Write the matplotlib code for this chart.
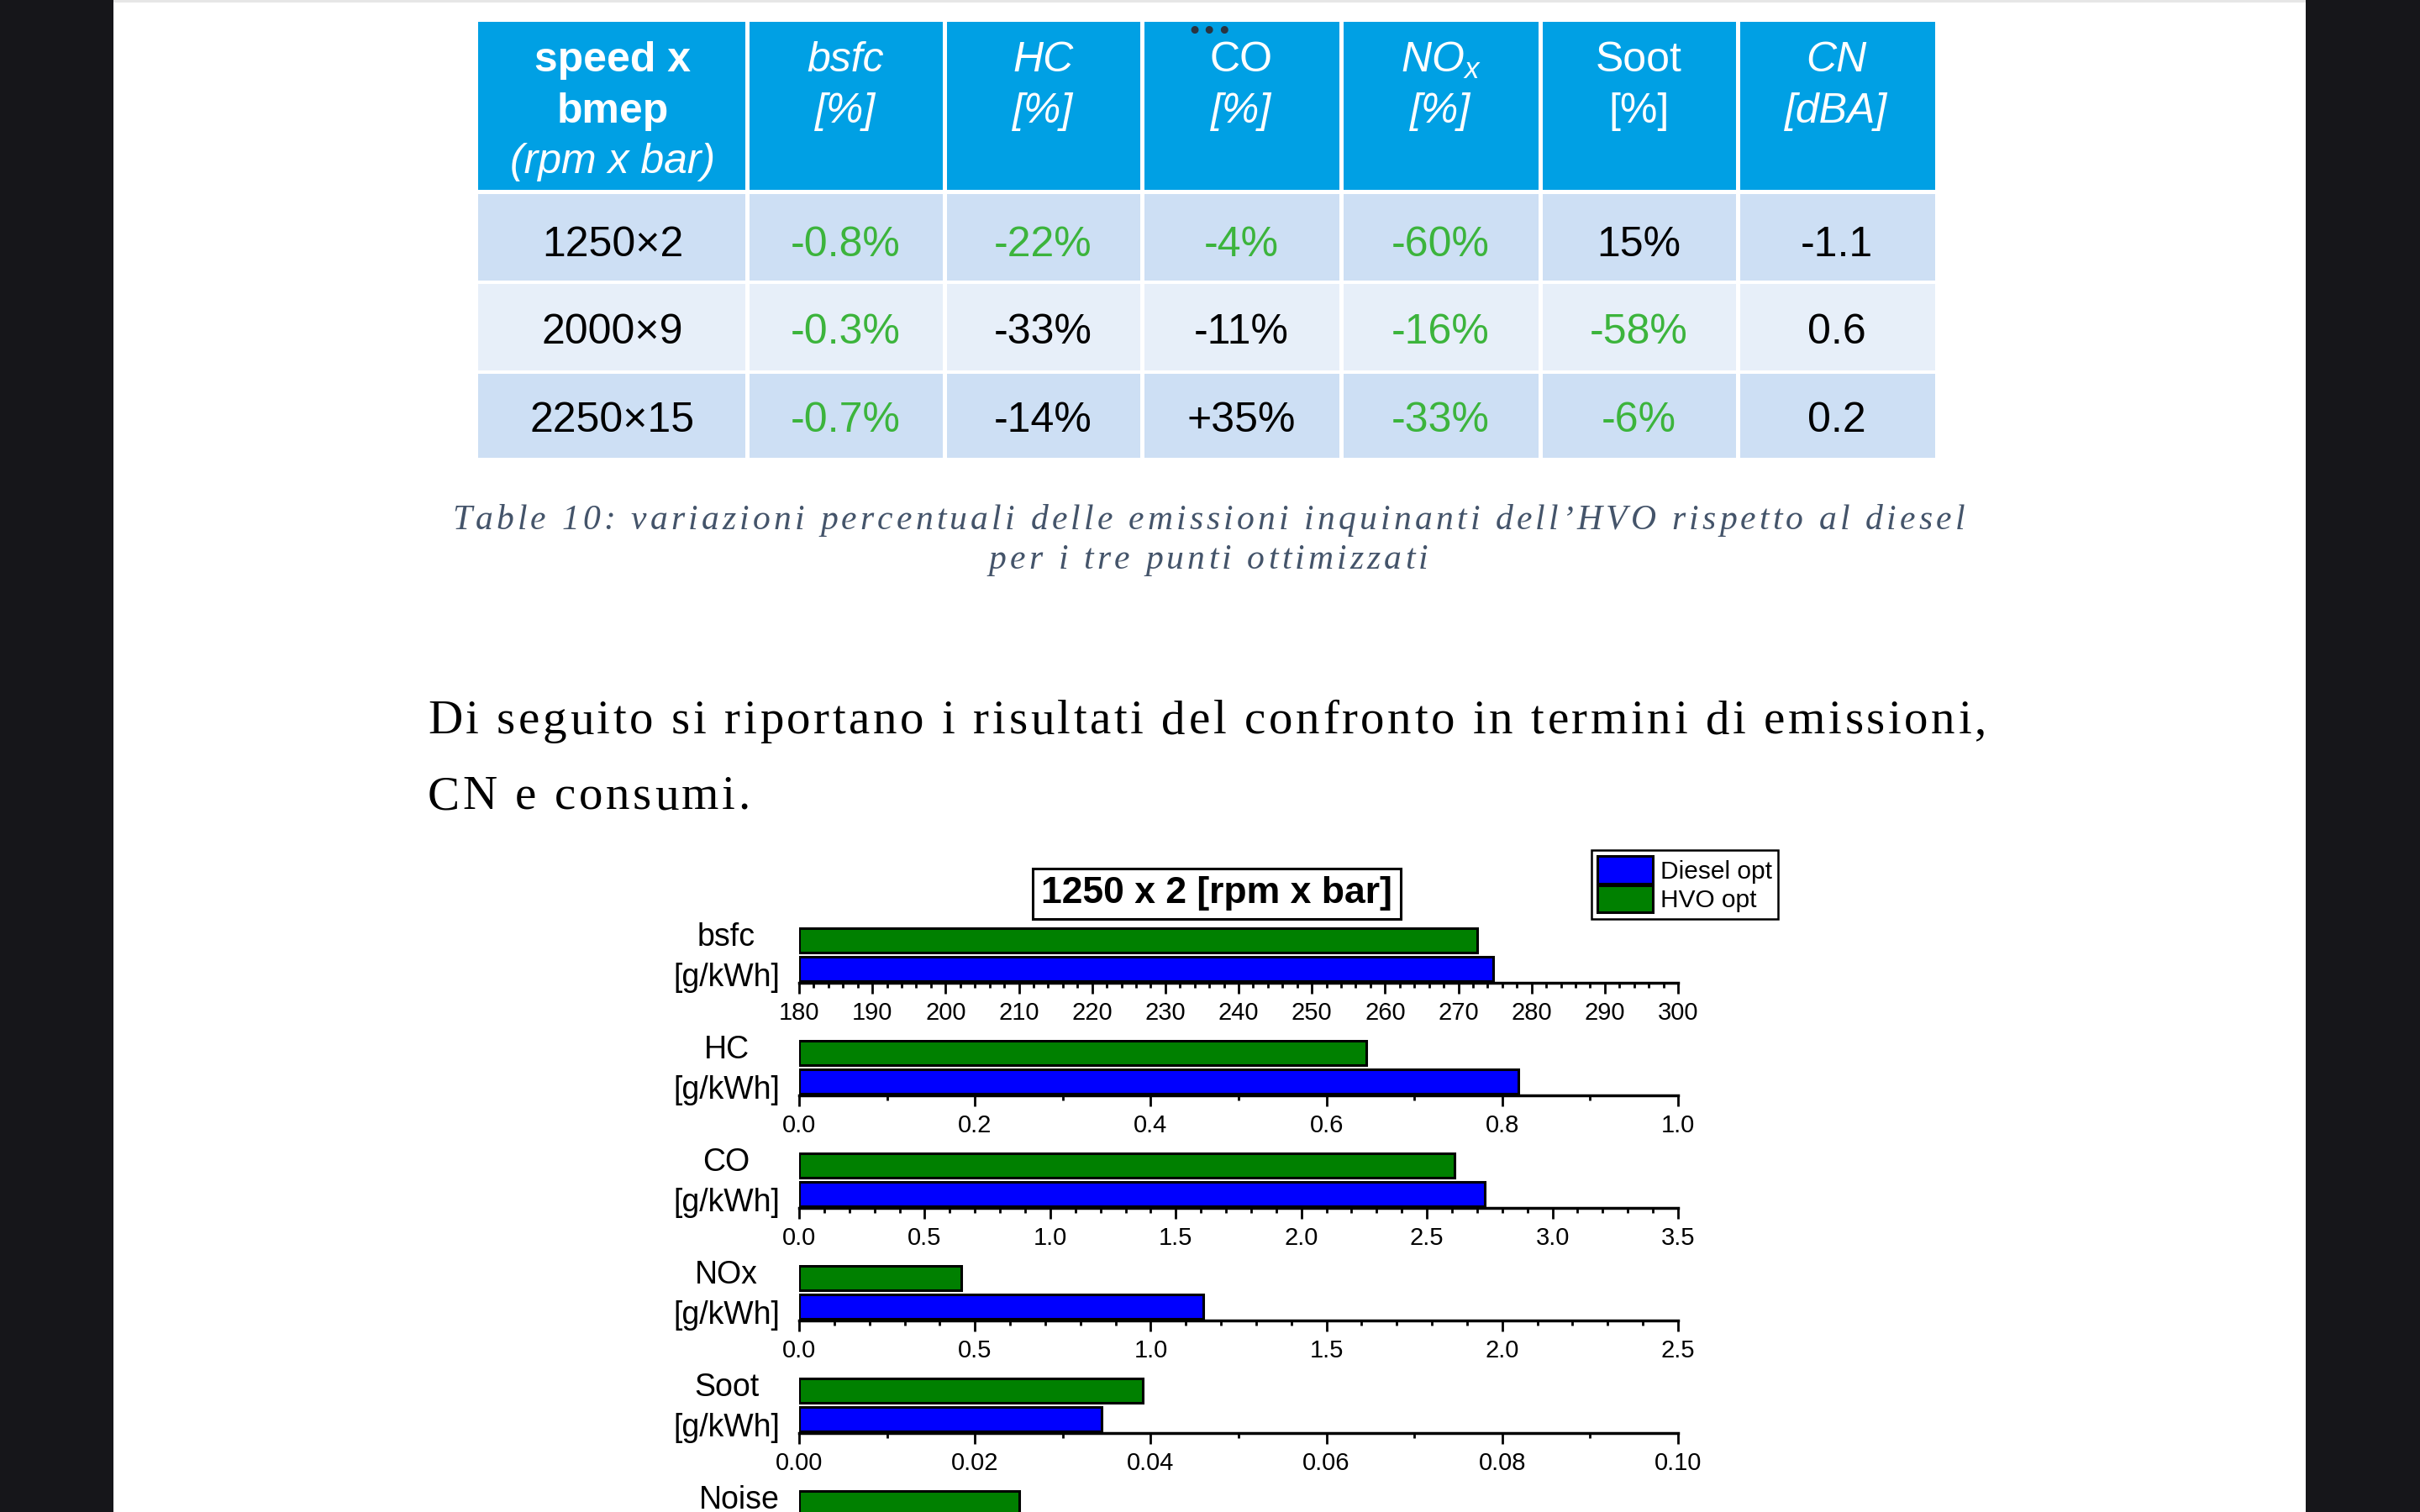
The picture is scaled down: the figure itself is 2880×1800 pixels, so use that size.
import matplotlib
matplotlib.use("Agg")
import matplotlib.pyplot as plt
from matplotlib import font_manager as fm
from matplotlib.ft2font import FT2Font
from matplotlib.patches import Rectangle
from matplotlib.ticker import MultipleLocator, FormatStrFormatter

W, H, DPI = 2880, 1800, 100

plt.rcParams["font.family"] = ["Liberation Sans", "DejaVu Sans"]
plt.rcParams["mathtext.fontset"] = "custom"
plt.rcParams["mathtext.rm"] = "Liberation Sans"
plt.rcParams["mathtext.it"] = "Liberation Sans:italic"

# ---- table data ----
table_points = ["1250×2", "2000×9", "2250×15"]
table_heads = [("bsfc", "[%]"), ("HC", "[%]"), ("CO", "[%]"),
               (r"$\mathit{NO}_{\mathit{x}}$", "[%]"), ("Soot", "[%]"), ("CN", "[dBA]")]
head_italic = [(True, True), (True, True), (False, True),
               (False, True), (False, False), (True, True)]
bsfc_var = ["-0.8%", "-0.3%", "-0.7%"]
hc_var = ["-22%", "-33%", "-14%"]
co_var = ["-4%", "-11%", "+35%"]
nox_var = ["-60%", "-16%", "-33%"]
soot_var = ["15%", "-58%", "-6%"]
cn_var = ["-1.1", "0.6", "0.2"]
highlight = [[True, True, True, True, False, False],
             [True, False, False, True, True, False],
             [True, False, False, True, True, False]]

caption = ["Table 10: variazioni percentuali delle emissioni inquinanti dell’HVO rispetto al diesel",
           "per i tre punti ottimizzati"]
paragraph = ["Di seguito si riportano i risultati del confronto in termini di emissioni,",
             "CN e consumi."]

# ---- chart data ----
chart_title = "1250 x 2 [rpm x bar]"
metrics = ["bsfc", "HC", "CO", "NOx", "Soot", "Noise"]
units = ["[g/kWh]", "[g/kWh]", "[g/kWh]", "[g/kWh]", "[g/kWh]", "[dBA]"]
diesel_opt = [274.8, 0.818, 2.73, 1.15, 0.0344, 81.1]
hvo_opt = [272.6, 0.645, 2.61, 0.462, 0.0391, 80.0]
x_limits = [(180, 300), (0, 1.0), (0, 3.5), (0, 2.5), (0, 0.10), (75, 95)]
major_step = [10, 0.2, 0.5, 0.5, 0.02, 5]
minor_step = [2, 0.1, 0.1, 0.1, 0.01, 1]
tick_fmt = ["%d", "%.1f", "%.1f", "%.1f", "%.2f", "%d"]

fig = plt.figure(figsize=(W / DPI, H / DPI), dpi=DPI)
bg = fig.add_axes([0, 0, 1, 1], zorder=0)
bg.set_xlim(0, W)
bg.set_ylim(H, 0)
bg.axis("off")

# page frame
bg.add_patch(Rectangle((0, 0), 135, H, fc="#16161a", ec="none"))
bg.add_patch(Rectangle((2744, 0), W - 2744, H, fc="#16161a", ec="none"))
bg.add_patch(Rectangle((135, 0), 2744 - 135, 3, fc="#e6e6e6", ec="none"))
bg.text(1440, 38, "•••", fontsize=22, color="#2a3440", ha="center", va="center",
        family="DejaVu Sans")


def tracked(x, y, s, prop, width=None, track=None, ha="left", color="black"):
    font = FT2Font(fm.findfont(prop))
    font.set_size(prop.get_size_in_points(), DPI)
    adv = [font.load_char(ord(c)).linearHoriAdvance / 65536 for c in s]
    if track is None:
        track = (width - sum(adv)) / (len(s) - 1)
    total = sum(adv) + track * (len(s) - 1)
    cx = x - total / 2 if ha == "center" else x
    for c, a in zip(s, adv):
        bg.text(cx, y, c, fontproperties=prop, color=color, va="baseline", ha="left")
        cx += a + track
    return track


# ---- table ----
col_edges = [569, 889, 1124, 1359, 1596, 1833, 2068, 2303]
row_edges = [(26, 226), (231, 334), (338, 441), (445, 545)]
row_fill = ["#00a0e4", "#cddff4", "#e7eff9", "#cddff4"]
g = 2.5
for r, (top, bot) in enumerate(row_edges):
    for c in range(7):
        x0 = col_edges[c] + (g if c > 0 else 0)
        x1 = col_edges[c + 1] - (g if c < 6 else 0)
        bg.add_patch(Rectangle((x0, top), x1 - x0, bot - top, fc=row_fill[r], ec="none"))

centers = [(col_edges[i] + col_edges[i + 1]) / 2 for i in range(7)]
bg.text(centers[0], 72, "speed x", color="white", fontsize=36, weight="bold", ha="center", va="center")
bg.text(centers[0], 133, "bmep", color="white", fontsize=36, weight="bold", ha="center", va="center")
bg.text(centers[0], 193, "(rpm x bar)", color="white", fontsize=36, style="italic", ha="center", va="center")
for i, (h1, h2) in enumerate(table_heads):
    it1, it2 = head_italic[i]
    bg.text(centers[i + 1], 72, h1, color="white", fontsize=36,
            style="italic" if it1 else "normal", ha="center", va="center")
    bg.text(centers[i + 1], 133, h2, color="white", fontsize=36,
            style="italic" if it2 else "normal", ha="center", va="center")

columns = [bsfc_var, hc_var, co_var, nox_var, soot_var, cn_var]
row_y = [292, 396, 501]
for r in range(3):
    bg.text(centers[0], row_y[r], table_points[r], fontsize=36, ha="center", va="center")
    for c in range(6):
        bg.text(centers[c + 1], row_y[r], columns[c][r], fontsize=36, ha="center", va="center",
                color="#3cb43c" if highlight[r][c] else "black")

# ---- caption and paragraph ----
cap_prop = fm.FontProperties(family="Liberation Serif", style="italic", size=30)
tr = tracked(1438, 630, caption[0], cap_prop, width=1800, ha="center", color="#44546a")
tracked(1438, 677, caption[1], cap_prop, track=tr, ha="center", color="#44546a")

par_prop = fm.FontProperties(family="Liberation Serif", size=41)
tr = tracked(509, 873, paragraph[0], par_prop, width=1855)
tracked(509, 963, paragraph[1], par_prop, track=tr)

# ---- chart ----
bg.text(1448, 1064, chart_title, fontsize=32, weight="bold", ha="center", va="center",
        bbox=dict(boxstyle="square,pad=0.22", fc="white", ec="black", lw=2.2))

ax_left, ax_right, ax_h = 951, 1997, 66
handles = None
for i, name in enumerate(metrics):
    base = 1170 + 134 * i
    ax = fig.add_axes([ax_left / W, 1 - base / H, (ax_right - ax_left) / W, ax_h / H], zorder=1)
    ax.set_facecolor("none")
    lo, hi = x_limits[i]
    b1 = ax.barh([0], [diesel_opt[i] - lo], left=lo, height=0.86, color="#0000ff",
                 edgecolor="black", linewidth=2.2, label="Diesel opt")
    b2 = ax.barh([1], [hvo_opt[i] - lo], left=lo, height=0.86, color="#008000",
                 edgecolor="black", linewidth=2.2, label="HVO opt")
    if handles is None:
        handles = [b1, b2]
    ax.set_xlim(lo, hi)
    ax.set_ylim(-0.48, 1.46)
    for s in ["left", "top", "right"]:
        ax.spines[s].set_visible(False)
    ax.spines["bottom"].set_linewidth(2.5)
    ax.set_yticks([])
    ax.xaxis.set_major_locator(MultipleLocator(major_step[i]))
    ax.xaxis.set_minor_locator(MultipleLocator(minor_step[i]))
    ax.xaxis.set_major_formatter(FormatStrFormatter(tick_fmt[i]))
    ax.tick_params(axis="x", which="major", length=9.5, width=2, labelsize=21, pad=6)
    ax.tick_params(axis="x", which="minor", length=4, width=2)
    ax.text(-0.022, 0.455, f"{name}\n{units[i]}", transform=ax.transAxes, fontsize=27,
            ha="right", va="center", multialignment="center", linespacing=1.4)

leg = fig.legend(handles, ["Diesel opt", "HVO opt"], loc="upper left",
                 bbox_to_anchor=(1894 / W, 1 - 1012 / H), fontsize=21.5, frameon=True,
                 fancybox=False, edgecolor="black", framealpha=1, borderpad=0.25,
                 borderaxespad=0, handlelength=2.2, handleheight=1.3, handletextpad=0.28,
                 labelspacing=0.05)
leg.get_frame().set_linewidth(1.8)

fig.savefig("out.png", dpi=DPI)
